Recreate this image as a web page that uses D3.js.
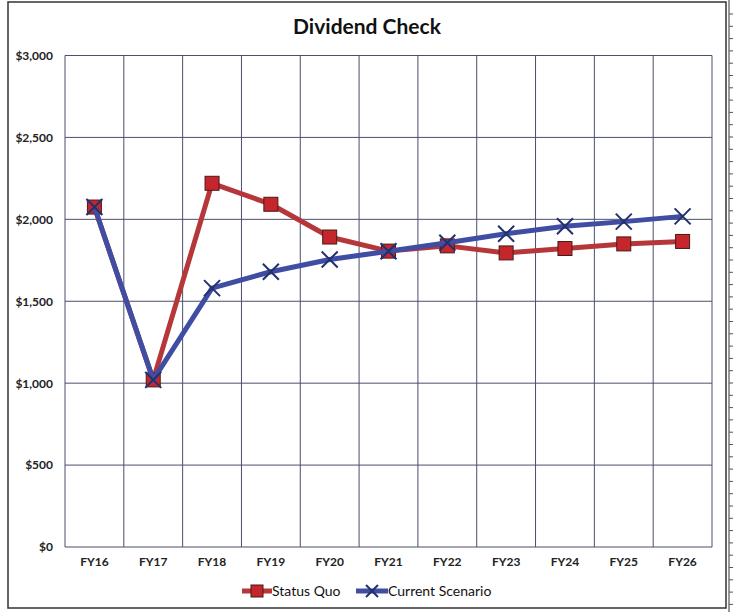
<!DOCTYPE html>
<html><head><meta charset="utf-8">
<script src="https://cdn.jsdelivr.net/npm/d3@7"></script>
<style>body{margin:0;background:#fff;} svg{display:block;}</style>
</head><body>
<svg id="c" width="740" height="612"></svg>
<script>
const categories = ["FY16","FY17","FY18","FY19","FY20","FY21","FY22","FY23","FY24","FY25","FY26"];
const statusQuo = [2075,1020,2220,2092,1892,1806,1838,1795,1822,1850,1865];
const currentScenario = [2075,1020,1580,1680,1755,1805,1857,1912,1958,1986,2018];
const yTicks = [0,500,1000,1500,2000,2500,3000];
const seriesNames = ["Status Quo","Current Scenario"];

const svg = d3.select("#c");
const font = "Lato, 'Open Sans', sans-serif";
const M = {l:65, r:712, t:55.5, b:547};

// frame
svg.append("rect").attr("x",8).attr("y",2).attr("width",718).attr("height",606)
  .attr("fill","#fff").attr("stroke","#333").attr("stroke-width",1.5);
svg.append("line").attr("x1",729).attr("x2",729).attr("y1",0).attr("y2",612).attr("stroke","#333").attr("stroke-width",1);
d3.range(14,612,12.3).forEach(y=>{
  svg.append("line").attr("x1",729).attr("x2",733).attr("y1",y).attr("y2",y).attr("stroke","#555").attr("stroke-width",1);
});

const x = d3.scaleBand().domain(categories).range([M.l,M.r]);
const y = d3.scaleLinear().domain([0,3000]).range([M.b,M.t]);

const grid = "#4b4f6b";
svg.append("g").selectAll("line").data(yTicks).join("line")
  .attr("x1",M.l).attr("x2",M.r).attr("y1",d=>y(d)).attr("y2",d=>y(d))
  .attr("stroke",grid).attr("stroke-width",1);
const bounds = categories.map(c=>x(c)).concat([M.r]);
svg.append("g").selectAll("line").data(bounds).join("line")
  .attr("x1",d=>d).attr("x2",d=>d).attr("y1",M.t).attr("y2",M.b)
  .attr("stroke",grid).attr("stroke-width",1);

const yAxis = svg.append("g").attr("transform",`translate(${M.l},0)`)
  .call(d3.axisLeft(y).tickValues(yTicks).tickSize(0).tickPadding(12).tickFormat(d=>"$"+d3.format(",")(d)));
yAxis.select(".domain").remove();
yAxis.selectAll("text").attr("font-family",font).attr("font-weight","bold").attr("font-size",12).attr("fill","#222");

const xAxis = svg.append("g").attr("transform",`translate(0,${M.b})`)
  .call(d3.axisBottom(x).tickSize(0).tickPadding(10));
xAxis.select(".domain").remove();
xAxis.selectAll("text").attr("font-family",font).attr("font-weight","bold").attr("font-size",12).attr("fill","#222");

svg.append("text").attr("x",367).attr("y",34).attr("text-anchor","middle")
  .attr("font-family",font).attr("font-weight","bold").attr("font-size",21).attr("fill","#111")
  .text("Dividend Check");

const red = "#b5373a", blue = "#3f4da3";
const line = d3.line().x((d,i)=>x(categories[i])+x.bandwidth()/2).y(d=>y(d));

svg.append("path").datum(statusQuo).attr("d",line).attr("fill","none")
  .attr("stroke",red).attr("stroke-width",5).attr("stroke-linejoin","round");
svg.append("g").selectAll("rect").data(statusQuo).join("rect")
  .attr("x",(d,i)=>x(categories[i])+x.bandwidth()/2-7).attr("y",d=>y(d)-7)
  .attr("width",14).attr("height",14).attr("fill","#c4262b").attr("stroke","#4a1a1a").attr("stroke-width",1);

svg.append("path").datum(currentScenario).attr("d",line).attr("fill","none")
  .attr("stroke",blue).attr("stroke-width",5).attr("stroke-linejoin","round");
svg.append("g").selectAll("path.x").data(currentScenario).join("path")
  .attr("d",(d,i)=>{const cx=x(categories[i])+x.bandwidth()/2, cy=y(d), s=8;
    return `M${cx-s},${cy-s}L${cx+s},${cy+s}M${cx-s},${cy+s}L${cx+s},${cy-s}`;})
  .attr("stroke","#22306e").attr("stroke-width",2).attr("fill","none");

const lg = svg.append("g").attr("font-family",font).attr("font-size",14).attr("fill","#111");
lg.append("line").attr("x1",242).attr("x2",272).attr("y1",591).attr("y2",591).attr("stroke",red).attr("stroke-width",5);
lg.append("rect").attr("x",251).attr("y",585).attr("width",12).attr("height",12).attr("fill","#c4262b").attr("stroke","#4a1a1a");
lg.append("text").attr("x",272).attr("y",596).text(seriesNames[0]);
lg.append("line").attr("x1",356).attr("x2",388).attr("y1",591).attr("y2",591).attr("stroke",blue).attr("stroke-width",5);
lg.append("path").attr("d","M366,585L378,597M366,597L378,585").attr("stroke","#22306e").attr("stroke-width",2);
lg.append("text").attr("x",388).attr("y",596).text(seriesNames[1]);
</script>
</body></html>
